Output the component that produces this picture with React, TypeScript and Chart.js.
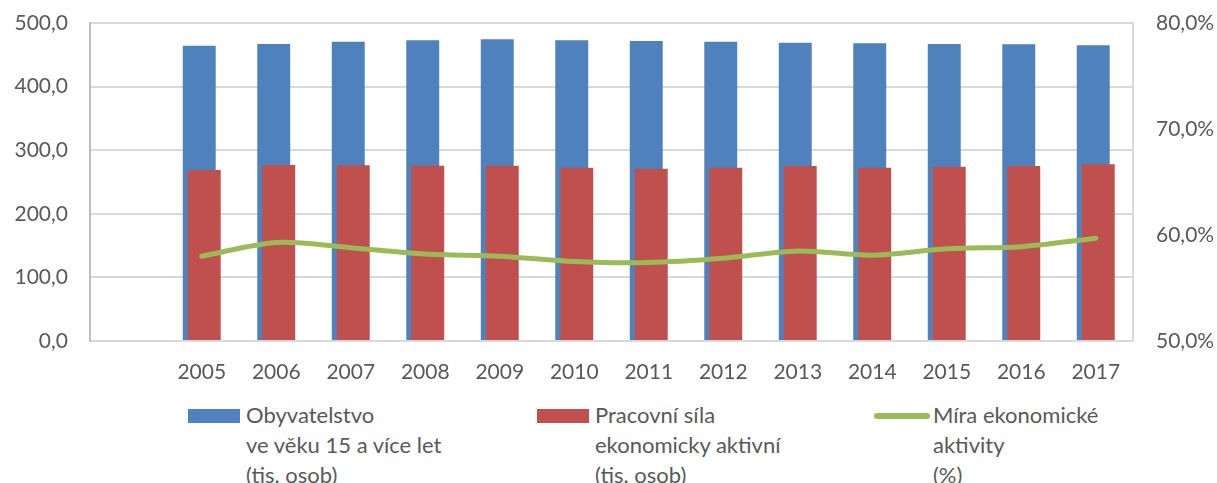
import React, { useEffect, useRef } from "react";
import { Chart, registerables } from "chart.js";

Chart.register(...registerables);

const categories = ["", "2005", "2006", "2007", "2008", "2009", "2010", "2011", "2012", "2013", "2014", "2015", "2016", "2017"];
const population = [null, 464.3, 467.0, 470.6, 472.8, 474.3, 472.8, 471.7, 470.6, 469.0, 468.0, 467.0, 466.5, 464.9];
const labourForce = [null, 268.9, 276.7, 276.2, 275.7, 275.7, 272.5, 271.0, 272.5, 275.2, 272.5, 274.1, 275.2, 277.8];
const activityRate = [null, 58.0, 59.3, 58.8, 58.2, 58.0, 57.5, 57.4, 57.8, 58.5, 58.1, 58.7, 58.9, 59.7];

const legendItems = [
  { kind: "box", color: "#4F81BD", lines: ["Obyvatelstvo", "ve věku 15 a více let", "(tis. osob)"], left: 188 },
  { kind: "box", color: "#C0504D", lines: ["Pracovní síla", "ekonomicky aktivní", "(tis. osob)"], left: 537 },
  { kind: "line", color: "#9BBB59", lines: ["Míra ekonomické", "aktivity", "(%)"], left: 874 },
];

const FONT = "Lato, 'Open Sans', sans-serif";
const TEXT = "#595959";

export default function App() {
  const ref = useRef<HTMLCanvasElement>(null);

  useEffect(() => {
    document.body.style.margin = "0";
    const ctx = ref.current!.getContext("2d")!;
    const fmt = (v: number) => v.toFixed(1).replace(".", ",");
    const chart = new Chart(ctx, {
      type: "bar",
      data: {
        labels: categories,
        datasets: [
          {
            type: "bar",
            label: "Obyvatelstvo ve věku 15 a více let (tis. osob)",
            data: population,
            backgroundColor: "#4F81BD",
            yAxisID: "y",
            order: 2,
            categoryPercentage: -0.134,
            barPercentage: -6.6,
          },
          {
            type: "bar",
            label: "Pracovní síla ekonomicky aktivní (tis. osob)",
            data: labourForce,
            backgroundColor: "#C0504D",
            yAxisID: "y",
            order: 1,
            categoryPercentage: -0.134,
            barPercentage: -6.6,
          },
          {
            type: "line",
            label: "Míra ekonomické aktivity (%)",
            data: activityRate,
            borderColor: "#9BBB59",
            backgroundColor: "#9BBB59",
            borderWidth: 5,
            borderCapStyle: "round",
            borderJoinStyle: "round",
            pointRadius: 0,
            tension: 0.3,
            yAxisID: "y1",
            order: 0,
          },
        ] as any,
      },
      options: {
        animation: false,
        responsive: false,
        maintainAspectRatio: false,
        layout: { padding: { top: 23, left: 0, right: 0, bottom: 0 } },
        plugins: { legend: { display: false }, tooltip: { enabled: false } },
        scales: {
          x: {
            grid: { display: false, drawTicks: false },
            border: { display: true, color: "#d9d9d9", width: 2 },
            ticks: { color: TEXT, font: { family: FONT, size: 21 }, padding: 19, maxRotation: 0, autoSkip: false },
            afterFit: (s: any) => { s.height = 59; },
          },
          y: {
            position: "left",
            min: 0,
            max: 500,
            ticks: { stepSize: 100, color: TEXT, font: { family: FONT, size: 21 }, padding: 22, callback: (v: any) => fmt(Number(v)) },
            grid: { color: "#d9d9d9", lineWidth: 2, drawTicks: false },
            border: { display: true, color: "#bfbfbf", width: 2 },
            afterFit: (s: any) => { s.width = 90; s.paddingTop = 0; s.paddingBottom = 0; },
          },
          y1: {
            position: "right",
            min: 50,
            max: 80,
            ticks: { stepSize: 10, color: TEXT, font: { family: FONT, size: 21 }, padding: 23, callback: (v: any) => fmt(Number(v)) + "%" },
            grid: { display: false, drawTicks: false },
            border: { display: true, color: "#d9d9d9", width: 2 },
            afterFit: (s: any) => { s.width = 84; s.paddingTop = 0; s.paddingBottom = 0; },
          },
        },
      } as any,
    });
    return () => chart.destroy();
  }, []);

  return (
    <div style={{ position: "relative", width: 1217, height: 483, overflow: "hidden", background: "#fff" }}>
      <canvas ref={ref} width={1217} height={400} style={{ display: "block", width: 1217, height: 400 }} />
      {legendItems.map((it, i) => (
        <div key={i} style={{ position: "absolute", left: it.left, top: 400, display: "flex", alignItems: "flex-start" }}>
          {it.kind === "box" ? (
            <div style={{ width: 52, height: 14, background: it.color, marginTop: 9, marginRight: 6 }} />
          ) : (
            <div style={{ width: 56, height: 6, borderRadius: 3, background: it.color, marginTop: 13, marginRight: 3 }} />
          )}
          <div style={{ fontFamily: FONT, fontSize: 22, lineHeight: "30px", color: TEXT, whiteSpace: "nowrap" }}>
            {it.lines.map((l, j) => (
              <div key={j}>{l}</div>
            ))}
          </div>
        </div>
      ))}
    </div>
  );
}
